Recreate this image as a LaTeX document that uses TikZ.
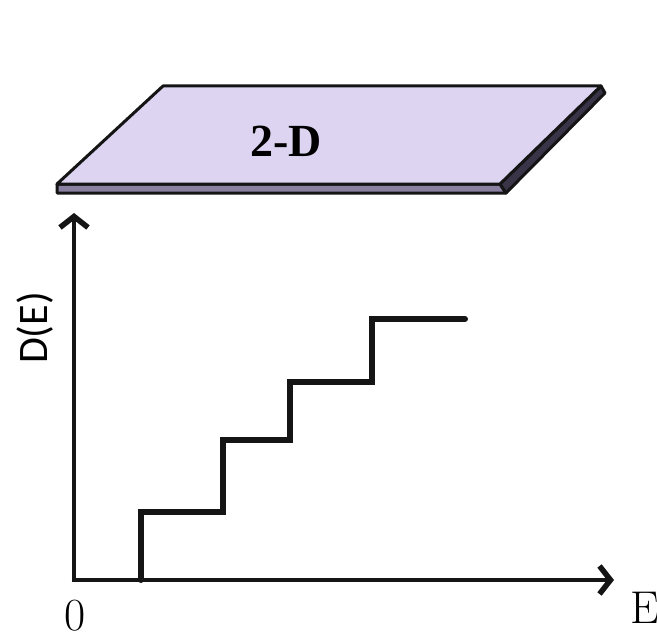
\documentclass[tikz,border=0pt]{standalone}
\usepackage{fontspec}
\usetikzlibrary{arrows.meta}
\newfontfamily\slabfont{Liberation Serif}
\newfontfamily\axfont{Carlito}
\definecolor{slabtop}{HTML}{DDD4F2}
\definecolor{slabfront}{HTML}{8A80A2}
\definecolor{slabside}{HTML}{3A3448}
\definecolor{ink}{HTML}{151515}
\tikzset{
  slabface/.style={draw=ink, line width=3pt, line join=round},
  axisline/.style={draw=ink, line width=4.8pt, line cap=butt, -{Straight Barb[length=11pt,width=28pt,line width=5.5pt]}},
  stairline/.style={draw=ink, line width=6pt, line join=miter, line cap=round},
  serifnum/.style={inner sep=0pt, font=\fontsize{46}{46}\selectfont},
  axlabel/.style={inner sep=0pt, font=\axfont\fontsize{42}{42}\selectfont},
  slablabel/.style={inner sep=0pt, font=\slabfont\bfseries\fontsize{46}{46}\selectfont}
}
\begin{document}
\begin{tikzpicture}[x=1pt,y=-1pt]
\useasboundingbox (0,0) rectangle (657,634);
% slab
\coordinate (A) at (163,86);
\coordinate (B) at (601,86);
\coordinate (C) at (500,184);
\coordinate (D) at (57,184);
\coordinate (Cp) at (506,193);
\coordinate (Dp) at (57,193);
\coordinate (Bp) at (605,93);
\fill[slabfront, slabface] (D) -- (C) -- (Cp) -- (Dp) -- cycle;
\fill[slabside, slabface] (C) -- (B) -- (Bp) -- (Cp) -- cycle;
\fill[slabtop, slabface] (A) -- (B) -- (C) -- (D) -- cycle;
\node[slablabel] (slabtxt) at (286,141) {2-D};
% axes
\coordinate (origin) at (74,580);
\coordinate (ytip) at (74,213);
\coordinate (xtip) at (614,580);
\draw[axisline] ([yshift=2.4pt]origin) -- (ytip);
\draw[axisline] ([xshift=-2.4pt]origin) -- (xtip);
% staircase
\coordinate (s0) at (140.5,580);
\coordinate (s1) at (140.5,512);
\coordinate (s2) at (222.5,512);
\coordinate (s3) at (222.5,440);
\coordinate (s4) at (290,440);
\coordinate (s5) at (290,382);
\coordinate (s6) at (372,382);
\coordinate (s7) at (372,319);
\coordinate (s8) at (465,319);
\draw[stairline] (s0) -- (s1) -- (s2) -- (s3) -- (s4) -- (s5) -- (s6) -- (s7) -- (s8);
% labels
\node[serifnum, anchor=base] (zero) at (75,630) {0};
\node[serifnum, anchor=base west] (elabel) at (630.5,623) {E};
\node[axlabel, rotate=90] (dlabel) at (35,328) {D(E)};
\end{tikzpicture}
\end{document}
